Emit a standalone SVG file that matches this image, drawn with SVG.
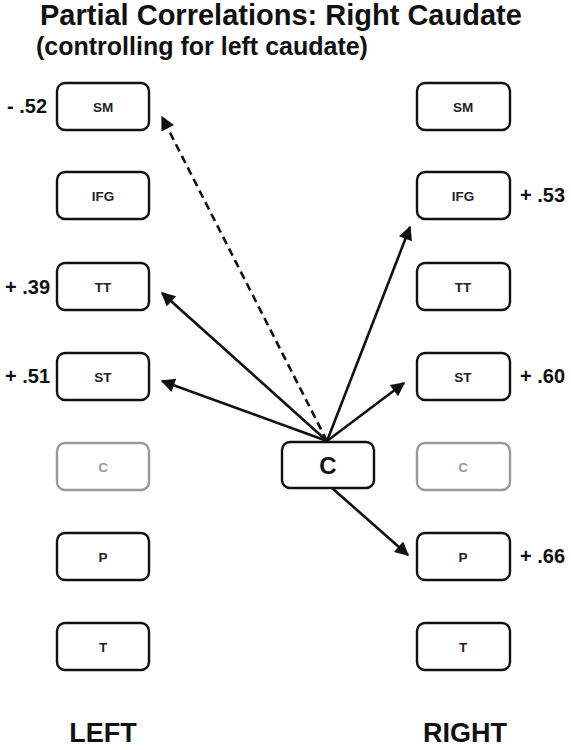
<svg xmlns="http://www.w3.org/2000/svg" width="571" height="750" viewBox="0 0 571 750">
<style>
.box{fill:#fff;stroke:#111;stroke-width:2.4}
.gbox{fill:#fff;stroke:#999;stroke-width:2.4}
.lbl{font-family:"Liberation Sans",Arial,sans-serif;font-weight:bold;font-size:13.5px;fill:#222;text-anchor:middle}
.glbl{font-family:"Liberation Sans",Arial,sans-serif;font-weight:bold;font-size:13.5px;fill:#999;text-anchor:middle}
.val{font-family:"Liberation Sans",Arial,sans-serif;font-weight:bold;font-size:20px;fill:#111}
.big{font-family:"Liberation Sans",Arial,sans-serif;font-weight:bold;fill:#111}
</style>
<defs>
<marker id="ahb" viewBox="0 0 10 10" refX="9" refY="5" markerWidth="17" markerHeight="14" orient="auto" markerUnits="userSpaceOnUse">
<path d="M0,0 L10,5 L0,10 Z" fill="#111"/>
</marker>
</defs>
<rect width="571" height="750" fill="#fff"/>
<text class="big" x="40" y="25" font-size="29">Partial Correlations: Right Caudate</text>
<text class="big" x="36" y="55" font-size="25">(controlling for left caudate)</text>

<g id="L-SM"><rect class="box" x="57" y="83" width="92" height="47" rx="8"/><text class="lbl" x="103" y="111.5">SM</text></g>
<g id="L-IFG"><rect class="box" x="57" y="172" width="92" height="47" rx="8"/><text class="lbl" x="103" y="200.5">IFG</text></g>
<g id="L-TT"><rect class="box" x="57" y="263" width="92" height="47" rx="8"/><text class="lbl" x="103" y="291.5">TT</text></g>
<g id="L-ST"><rect class="box" x="57" y="353" width="92" height="47" rx="8"/><text class="lbl" x="103" y="381.5">ST</text></g>
<g id="L-C"><rect class="gbox" x="57" y="443" width="92" height="47" rx="8"/><text class="glbl" x="103" y="471.5">C</text></g>
<g id="L-P"><rect class="box" x="57" y="533" width="92" height="47" rx="8"/><text class="lbl" x="103" y="561.5">P</text></g>
<g id="L-T"><rect class="box" x="57" y="623" width="92" height="47" rx="8"/><text class="lbl" x="103" y="651.5">T</text></g>

<g id="R-SM"><rect class="box" x="417" y="83" width="93" height="47" rx="8"/><text class="lbl" x="463" y="111.5">SM</text></g>
<g id="R-IFG"><rect class="box" x="417" y="172" width="93" height="47" rx="8"/><text class="lbl" x="463" y="200.5">IFG</text></g>
<g id="R-TT"><rect class="box" x="417" y="263" width="93" height="47" rx="8"/><text class="lbl" x="463" y="291.5">TT</text></g>
<g id="R-ST"><rect class="box" x="417" y="353" width="93" height="47" rx="8"/><text class="lbl" x="463" y="381.5">ST</text></g>
<g id="R-C"><rect class="gbox" x="417" y="443" width="93" height="47" rx="8"/><text class="glbl" x="463" y="471.5">C</text></g>
<g id="R-P"><rect class="box" x="417" y="533" width="93" height="47" rx="8"/><text class="lbl" x="463" y="561.5">P</text></g>
<g id="R-T"><rect class="box" x="417" y="623" width="93" height="47" rx="8"/><text class="lbl" x="463" y="651.5">T</text></g>

<g id="center-C"><rect class="box" x="282" y="442" width="92" height="46" rx="8"/><text class="big" x="328" y="473.5" font-size="24" text-anchor="middle">C</text></g>

<g id="connectors" stroke="#111" stroke-width="2.6" fill="none">
<line x1="327" y1="441" x2="162" y2="117" stroke-dasharray="8,5" marker-end="url(#ahb)"/>
<line x1="327" y1="441" x2="162" y2="293" marker-end="url(#ahb)"/>
<line x1="327" y1="441" x2="162" y2="381" marker-end="url(#ahb)"/>
<line x1="327" y1="441" x2="410" y2="227" marker-end="url(#ahb)"/>
<line x1="327" y1="441" x2="404" y2="383" marker-end="url(#ahb)"/>
<line x1="332" y1="488" x2="408" y2="555" marker-end="url(#ahb)"/>
</g>

<g id="values">
<text class="val" x="7" y="113">- .52</text>
<text class="val" x="5" y="294">+ .39</text>
<text class="val" x="5" y="383">+ .51</text>
<text class="val" x="520" y="202">+ .53</text>
<text class="val" x="520" y="383">+ .60</text>
<text class="val" x="520" y="563">+ .66</text>
</g>

<text class="big" x="103" y="742" font-size="27" text-anchor="middle">LEFT</text>
<text class="big" x="465" y="742" font-size="27" text-anchor="middle">RIGHT</text>
</svg>
